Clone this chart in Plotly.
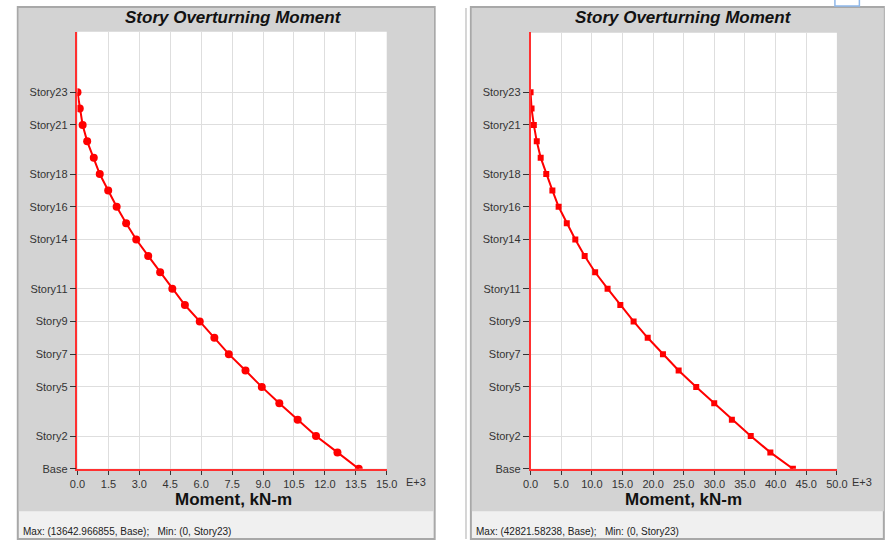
import plotly.graph_objects as go

# ---------------- data ----------------
stories = ["Story23", "Story22", "Story21", "Story20", "Story19", "Story18", "Story17",
           "Story16", "Story15", "Story14", "Story13", "Story12", "Story11", "Story10",
           "Story9", "Story8", "Story7", "Story6", "Story5", "Story4", "Story3",
           "Story2", "Story1", "Base"]
levels = [23, 22, 21, 20, 19, 18, 17, 16, 15, 14, 13, 12, 11, 10, 9, 8, 7, 6, 5, 4, 3, 2, 1, 0]

# overturning moment, x 1000 kN-m
moment_left = [0.0, 0.11, 0.25, 0.47, 0.79, 1.08, 1.49, 1.90, 2.36, 2.85, 3.43, 4.01,
               4.60, 5.21, 5.93, 6.64, 7.34, 8.15, 8.94, 9.79, 10.68, 11.57, 12.61, 13.643]
moment_right = [0.0, 0.16, 0.53, 1.01, 1.65, 2.56, 3.56, 4.58, 5.91, 7.30, 8.83, 10.54,
                12.57, 14.65, 16.82, 19.12, 21.61, 24.17, 27.04, 29.98, 32.86, 35.94, 39.14, 42.82]

ytick_labels = ["Story23", "Story21", "Story18", "Story16", "Story14", "Story11",
                "Story9", "Story7", "Story5", "Story2", "Base"]
ytick_levels = [23, 21, 18, 16, 14, 11, 9, 7, 5, 2, 0]

xticks_left = [0, 1.5, 3, 4.5, 6, 7.5, 9, 10.5, 12, 13.5, 15]
xticks_right = [0, 5, 10, 15, 20, 25, 30, 35, 40, 45, 50]

title_text = "Story Overturning Moment"
xtitle_text = "Moment, kN-m"
status_left = "Max: (13642.966855, Base); \u00a0 Min: (0, Story23)"
status_right = "Max: (42821.58238, Base); \u00a0 Min: (0, Story23)"

# ---------------- layout helpers ----------------
W, H = 888, 542
FONT = "Liberation Sans, Arial, sans-serif"


def px(x):
    return x / W


def py(y):
    return 1 - y / H


fig = go.Figure()

fig.add_trace(go.Scatter(
    x=moment_left, y=levels, text=stories, mode="lines+markers",
    line=dict(color="#ff0000", width=2),
    marker=dict(symbol="circle", size=8, color="#ff0000"),
    xaxis="x", yaxis="y", showlegend=False, hoverinfo="x+text"))

fig.add_trace(go.Scatter(
    x=moment_right, y=levels, text=stories, mode="lines+markers",
    line=dict(color="#ff0000", width=2),
    marker=dict(symbol="square", size=6, color="#ff0000"),
    xaxis="x2", yaxis="y2", showlegend=False, hoverinfo="x+text"))

ydom = [py(474), py(32)]
common_x = dict(showline=True, linecolor="#ff3030", linewidth=1.5, ticks="outside",
                ticklen=4, tickcolor="#333", showgrid=True, gridcolor="#dedede",
                gridwidth=1, zeroline=False, fixedrange=True,
                tickfont=dict(family=FONT, size=11, color="#333"))
common_y = dict(showline=True, linecolor="#ff3030", linewidth=1.5, ticks="outside",
                ticklen=6, tickcolor="#333", showgrid=True, gridcolor="#dedede",
                gridwidth=1, zeroline=False, fixedrange=True, range=[0, 26.7],
                tickmode="array", tickvals=ytick_levels, ticktext=ytick_labels,
                tickfont=dict(family=FONT, size=11, color="#333"))

fig.update_layout(
    width=W, height=H, autosize=False,
    margin=dict(l=0, r=0, t=0, b=0),
    paper_bgcolor="white", plot_bgcolor="rgba(0,0,0,0)",
    xaxis=dict(domain=[px(71), px(387)], anchor="y", range=[0, 15],
               tickmode="array", tickvals=xticks_left,
               ticktext=[f"{v:.1f}" for v in xticks_left], **common_x),
    yaxis=dict(domain=ydom, anchor="x", **common_y),
    xaxis2=dict(domain=[px(534), px(847)], anchor="y2", range=[0, 50],
                tickmode="array", tickvals=xticks_right,
                ticktext=[f"{v:.1f}" for v in xticks_right], **common_x),
    yaxis2=dict(domain=ydom, anchor="x2", **common_y),
)

shapes = []
# left panel frame
shapes.append(dict(type="rect", xref="paper", yref="paper", layer="below",
                   x0=px(10), x1=px(436), y0=py(545), y1=py(7),
                   fillcolor="#f0f0f0", line=dict(color="#a8a8a8", width=2)))
shapes.append(dict(type="rect", xref="paper", yref="paper", layer="below",
                   x0=px(11), x1=px(435), y0=py(517), y1=py(8),
                   fillcolor="#d3d3d3", line=dict(width=0)))
shapes.append(dict(type="rect", xref="paper", yref="paper", layer="below",
                   x0=px(71), x1=px(387), y0=py(474), y1=py(32),
                   fillcolor="white", line=dict(width=0)))
# right panel frame
shapes.append(dict(type="line", xref="paper", yref="paper", layer="below",
                   x0=px(468), x1=px(468), y0=py(545), y1=py(8),
                   line=dict(color="#c8c8c8", width=1.5)))
shapes.append(dict(type="rect", xref="paper", yref="paper", layer="below",
                   x0=px(473), x1=px(895), y0=py(545), y1=py(7),
                   fillcolor="#f0f0f0", line=dict(color="#a8a8a8", width=2)))
shapes.append(dict(type="rect", xref="paper", yref="paper", layer="below",
                   x0=px(474), x1=px(895), y0=py(517), y1=py(8),
                   fillcolor="#d3d3d3", line=dict(width=0)))
shapes.append(dict(type="rect", xref="paper", yref="paper", layer="below",
                   x0=px(534), x1=px(847), y0=py(474), y1=py(33),
                   fillcolor="white", line=dict(width=0)))
# small blue box at top right
shapes.append(dict(type="rect", xref="paper", yref="paper", layer="above",
                   x0=px(845), x1=px(870), y0=py(6), y1=py(-2),
                   fillcolor="rgba(0,0,0,0)", line=dict(color="#8fb8ea", width=1.5)))
fig.update_layout(shapes=shapes)

ann = []
for cx, ex, sx, st in [(230, 417, 13, status_left), (690, 873, 476, status_right)]:
    ann.append(dict(x=px(cx), y=py(18), xref="paper", yref="paper", showarrow=False,
                    text=f"<b><i>{title_text}</i></b>", xanchor="center", yanchor="middle",
                    font=dict(family=FONT, size=17, color="#111")))
    ann.append(dict(x=px(cx), y=py(505), xref="paper", yref="paper", showarrow=False,
                    text=f"<b>{xtitle_text}</b>", xanchor="center", yanchor="middle",
                    font=dict(family=FONT, size=17, color="#111")))
    ann.append(dict(x=px(ex), y=py(487), xref="paper", yref="paper", showarrow=False,
                    text="E+3", xanchor="center", yanchor="middle",
                    font=dict(family=FONT, size=11, color="#333")))
    ann.append(dict(x=px(sx), y=py(537), xref="paper", yref="paper", showarrow=False,
                    text=st, xanchor="left", yanchor="middle",
                    font=dict(family=FONT, size=10, color="#222")))
fig.update_layout(annotations=ann)

fig.write_html(
    "out.html",
    config={"displayModeBar": False},
    post_script="document.body.style.margin='0';document.body.style.overflow='hidden';",
)
